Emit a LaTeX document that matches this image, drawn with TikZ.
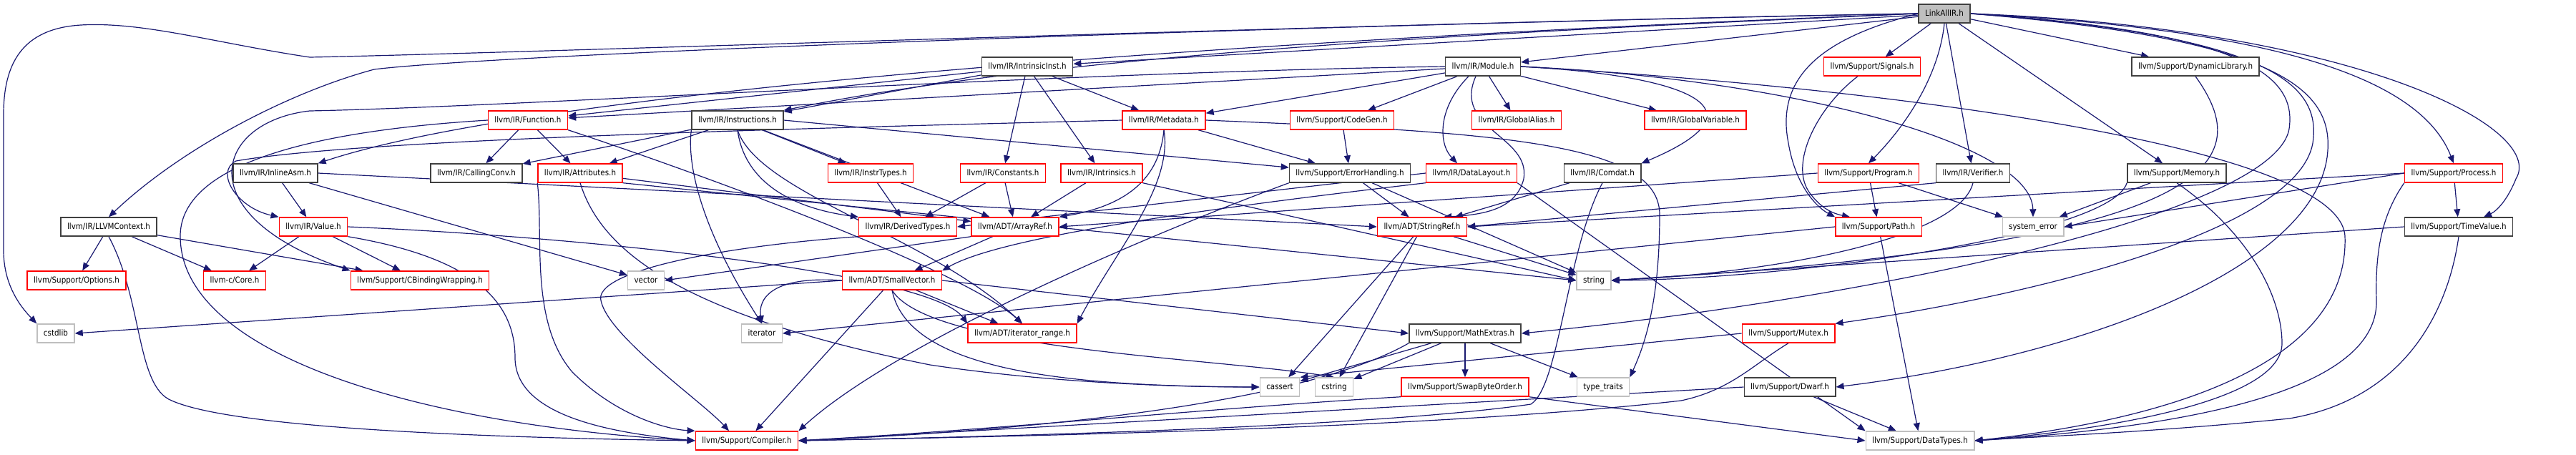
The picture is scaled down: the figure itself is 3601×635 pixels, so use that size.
\documentclass[tikz,border=0pt]{standalone}
\usepackage{fontspec}
\newfontfamily\dfont{DejaVu Sans}[FakeStretch=0.9]
\usetikzlibrary{arrows.meta}
\definecolor{edgec}{RGB}{25,25,112}
\definecolor{redb}{RGB}{255,0,0}
\definecolor{grayb}{RGB}{191,191,191}
\definecolor{blackb}{RGB}{64,64,64}
\pgfdeclarelayer{bg}\pgfsetlayers{bg,main}
\begin{document}
\begin{tikzpicture}[x=1pt,y=-1pt,
  nd/.style={rectangle, draw, fill=white, minimum height=26pt, inner xsep=9pt, inner ysep=0pt,
    line width=1.4pt, font=\dfont\fontsize{11.5}{13}\selectfont, text height=8.6pt, text depth=2.4pt},
  bk/.style={nd, draw=blackb},
  rd/.style={nd, draw=redb},
  gy/.style={nd, draw=grayb},
  e/.style={draw=edgec, line width=1.2pt, -{Triangle[length=11pt,width=9pt]}},
]
\useasboundingbox (0,0) rectangle (3601,635);
% row 0
\node[nd, draw=blackb, fill=grayb] (L) at (2718,19) {LinkAllIR.h};
% row 1
\node[bk] (ii) at (1436,93) {llvm/IR/IntrinsicInst.h};
\node[bk] (mod) at (2073,93) {llvm/IR/Module.h};
\node[rd] (sig) at (2617,93) {llvm/Support/Signals.h};
\node[bk] (dyn) at (3069,93) {llvm/Support/DynamicLibrary.h};
% row 2
\node[rd] (fun) at (738,168) {llvm/IR/Function.h};
\node[bk] (ins) at (1031,168) {llvm/IR/Instructions.h};
\node[rd] (meta) at (1627,168) {llvm/IR/Metadata.h};
\node[rd] (cg) at (1876,168) {llvm/Support/CodeGen.h};
\node[rd] (ga) at (2120,168) {llvm/IR/GlobalAlias.h};
\node[rd] (gv) at (2370,168) {llvm/IR/GlobalVariable.h};
% row 3
\node[bk] (ia) at (385,242) {llvm/IR/InlineAsm.h};
\node[bk] (cc) at (666,242) {llvm/IR/CallingConv.h};
\node[rd] (attr) at (811,242) {llvm/IR/Attributes.h};
\node[rd] (it) at (1217,242) {llvm/IR/InstrTypes.h};
\node[rd] (con) at (1402,242) {llvm/IR/Constants.h};
\node[rd] (intr) at (1540,242) {llvm/IR/Intrinsics.h};
\node[bk] (eh) at (1887,242) {llvm/Support/ErrorHandling.h};
\node[rd] (dl) at (2057,242) {llvm/IR/DataLayout.h};
\node[bk] (cmd) at (2240,242) {llvm/IR/Comdat.h};
\node[rd] (prog) at (2612,242) {llvm/Support/Program.h};
\node[bk] (ver) at (2758,242) {llvm/IR/Verifier.h};
\node[bk] (mem) at (3043,242) {llvm/Support/Memory.h};
\node[rd] (proc) at (3430,242) {llvm/Support/Process.h};
% row 4
\node[bk] (ctx) at (152,317) {llvm/IR/LLVMContext.h};
\node[rd] (val) at (438,317) {llvm/IR/Value.h};
\node[rd] (dt) at (1269,317) {llvm/IR/DerivedTypes.h};
\node[rd] (ar) at (1419,317) {llvm/ADT/ArrayRef.h};
\node[rd] (sr) at (1988,317) {llvm/ADT/StringRef.h};
\node[rd] (path) at (2626,317) {llvm/Support/Path.h};
\node[gy] (se) at (2842,317) {system\_error};
\node[bk] (tv) at (3437,317) {llvm/Support/TimeValue.h};
% row 5
\node[rd] (opt) at (107,392) {llvm/Support/Options.h};
\node[rd] (core) at (328,392) {llvm-c/Core.h};
\node[rd] (cbw) at (587,392) {llvm/Support/CBindingWrapping.h};
\node[gy] (vec) at (903,392) {vector};
\node[rd] (sv) at (1247,392) {llvm/ADT/SmallVector.h};
\node[gy] (str) at (2228,392) {string};
% row 6
\node[gy] (csl) at (78,466) {cstdlib};
\node[gy] (iter) at (1065,466) {iterator};
\node[rd] (ir) at (1429,466) {llvm/ADT/iterator\_range.h};
\node[bk] (me) at (2048,466) {llvm/Support/MathExtras.h};
\node[rd] (mtx) at (2500,466) {llvm/Support/Mutex.h};
% row 7
\node[gy] (cas) at (1789,541) {cassert};
\node[gy] (cst) at (1865,541) {cstring};
\node[rd] (sbo) at (2048,541) {llvm/Support/SwapByteOrder.h};
\node[gy] (tt) at (2241,541) {type\_traits};
\node[bk] (dw) at (2502,541) {llvm/Support/Dwarf.h};
% row 8
\node[rd] (comp) at (1044,616) {llvm/Support/Compiler.h};
\node[gy] (dty) at (2684,616) {llvm/Support/DataTypes.h};

\begin{pgfonlayer}{bg}
% LinkAllIR
\draw[e] (L) -- (ii);
\draw[e] (L) -- (mod);
\draw[e] (L.west) .. controls (2200,40) and (1500,70) .. (ins.north east);
\draw[e] (L.west) .. controls (2000,45) and (800,110) .. (ia.north east);
\draw[e] (L.west) .. controls (1800,35) and (700,75) .. (523,97) .. controls (400,130) and (250,210) .. (ctx.north);
\draw[e] (L.west) .. controls (2000,30) and (700,75) .. (433,80) .. controls (300,60) and (200,30) .. (113,35) .. controls (30,40) and (5,90) .. (5,160) -- (5,350) .. controls (5,400) and (30,430) .. (csl.north west);
\draw[e] (L) -- (sig);
\draw[e] (L.south) .. controls (2710,110) and (2660,180) .. (prog.north);
\draw[e] (L.west) .. controls (2560,50) and (2480,100) .. (2500,200) .. controls (2510,260) and (2540,290) .. (path.north west);
\draw[e] (L) -- (ver);
\draw[e] (L) -- (mem);
\draw[e] (L) -- (dyn);
\draw[e] (L.east) .. controls (3150,40) and (3380,100) .. (proc.north);
\draw[e] (L.east) .. controls (3300,40) and (3560,180) .. (3517,250) .. controls (3505,280) and (3490,295) .. ([xshift=35pt]tv.north);
\draw[e] (L.east) .. controls (3150,45) and (3210,110) .. (3200,180) .. controls (3180,300) and (2600,420) .. (me.east);
\draw[e] (L.east) .. controls (3180,50) and (3245,120) .. (3233,200) .. controls (3210,330) and (2800,420) .. (mtx.north east);
\draw[e] (L.east) .. controls (3200,55) and (3265,130) .. (3253,220) .. controls (3230,380) and (2900,500) .. (dw.east);
% Signals
\draw[e] ([xshift=-20pt]sig.south) .. controls (2540,150) and (2500,230) .. (2530,270) .. controls (2545,290) and (2560,298) .. ([xshift=-40pt]path.north);
% LLVMContext
\draw[e] (ctx) -- (opt);
\draw[e] (ctx) -- (core);
\draw[e] (ctx) -- (cbw);
\draw[e] (ctx.south) .. controls (200,420) and (190,540) .. (240,560) .. controls (330,600) and (700,612) .. (comp.west);
% Value
\draw[e] (val) -- (core);
\draw[e] (val) -- (cbw);
\draw[e] (val.south east) .. controls (660,360) and (720,420) .. (720,500) .. controls (720,580) and (850,605) .. (comp.west);
\draw[e] (val.east) .. controls (800,330) and (1300,380) .. (ir.north west);
% InlineAsm
\draw[e] (ia) -- (val);
\draw[e] (ia) -- (vec);
\draw[e] (ia.east) -- (sr.west);
% IntrinsicInst
\draw[e] (ii) -- (con);
\draw[e] (ii) -- (intr);
\draw[e] (ii) -- (meta);
\draw[e] (ii) -- (fun);
\draw[e] (ii) -- (ins);
% Module
\draw[e] (mod) -- (fun);
\draw[e] (mod) -- (meta);
\draw[e] (mod) -- (cg);
\draw[e] (mod) -- (ga);
\draw[e] (mod) -- (gv);
\draw[e] ([xshift=-20pt]mod.south) .. controls (2010,150) and (2010,200) .. ([xshift=-20pt]dl.north);
\draw[e] ([xshift=-10pt]mod.south) .. controls (2030,180) and (2140,190) .. (2130,250) .. controls (2120,290) and (2080,300) .. ([xshift=30pt]sr.north);
\draw[e] (mod.east) .. controls (2350,105) and (2480,150) .. (cmd.north east);
\draw[e] (mod.east) .. controls (2500,110) and (2840,200) .. (se.north);
\draw[e] (mod.east) .. controls (2600,120) and (3270,200) .. (3278,330) .. controls (3285,520) and (3000,590) .. (dty.east);
\draw[e] (mod.west) .. controls (1500,100) and (700,150) .. (433,155) .. controls (300,170) and (260,300) .. (cbw.north west);
% Function
\draw[e] (fun) -- (cc);
\draw[e] (fun) -- (attr);
\draw[e] (fun.west) .. controls (400,185) and (252,240) .. (252,330) .. controls (252,500) and (600,595) .. (comp.west);
\draw[e] (fun.south east) .. controls (1000,250) and (1350,380) .. (ir.north);
% Instructions
\draw[e] (ins) -- (cc);
\draw[e] (ins) -- (attr);
\draw[e] (ins) -- (it);
\draw[e] (ins.south) .. controls (1040,250) and (1100,290) .. (dt.north west);
\draw[e] (ins) -- (ar);
\draw[e] (ins.south) .. controls (1060,270) and (1300,330) .. (ir.north);
\draw[e] (ins.south west) .. controls (960,230) and (980,320) .. (iter.north);
\draw[e] (ins.east) -- (eh);
% Metadata
\draw[e] (meta.west) .. controls (1100,180) and (500,195) .. (330,225) .. controls (300,240) and (330,290) .. (val.north west);
\draw[e] (meta.south) .. controls (1620,260) and (1560,290) .. (ar.north east);
\draw[e] (meta.south) .. controls (1640,260) and (1560,350) .. (ir.north east);
\draw[e] (meta) -- (eh);
\draw[e] (meta.east) .. controls (2100,185) and (2320,200) .. (2320,300) .. controls (2320,420) and (2300,480) .. (tt.north east);
% CodeGen
\draw[e] (cg) -- (eh);
% Attributes
\draw[e] (attr) -- (ar);
\draw[e] (attr.south west) .. controls (760,330) and (740,450) .. (800,520) .. controls (860,580) and (930,600) .. (comp.north west);
\draw[e] (attr.south) .. controls (840,350) and (950,440) .. (1300,510) .. controls (1500,540) and (1700,541) .. (cas.west);
\draw[e] (attr.south east) -- (str.west);
% InstrTypes, Constants, Intrinsics, DerivedTypes
\draw[e] (it) -- (dt);
\draw[e] (con) -- (dt);
\draw[e] (con) -- (ar);
\draw[e] (intr) -- (ar);
\draw[e] (intr.south east) -- (str.west);
\draw[e] (dt.south west) .. controls (1000,345) and (830,380) .. (840,420) .. controls (850,470) and (980,560) .. ([xshift=-25pt]comp.north);
% ErrorHandling
\draw[e] (eh) -- (sr);
\draw[e] (eh) -- (str);
\draw[e] (eh.south west) .. controls (1600,330) and (1250,480) .. (comp.north east);
% DataLayout
\draw[e] (dl.south west) .. controls (1700,290) and (1400,330) .. (sv.north east);
\draw[e] (dl.west) -- (dt.east);
\draw[e] (dl.south east) -- (dty.north west);
% Comdat
\draw[e] (cmd) -- (sr);
\draw[e] (cmd.south) .. controls (2190,350) and (2180,540) .. (2140,565) .. controls (1900,600) and (1300,612) .. (comp.east);
% Program
\draw[e] (prog) -- (path);
\draw[e] (prog) -- (se);
\draw[e] (prog.west) -- (ar.east);
% Verifier
\draw[e] (ver.south west) -- (sr.east);
\draw[e] (ver.south) .. controls (2740,330) and (2500,380) .. (str.east);
% Memory
\draw[e] (mem) -- (se);
\draw[e] (mem.south) .. controls (3150,330) and (3190,420) .. (3190,480) .. controls (3190,560) and (2950,600) .. (dty.east);
\draw[e] (mem.south west) .. controls (2950,330) and (2500,390) .. (str.east);
% Process
\draw[e] (proc) -- (tv);
\draw[e] (proc.west) -- (se.east);
\draw[e] (proc.south west) .. controls (3330,300) and (3320,350) .. (3322,420) .. controls (3325,560) and (3000,600) .. (dty.east);
\draw[e] (proc.west) -- (sr.east);
% TimeValue
\draw[e] (tv.south) .. controls (3420,450) and (3350,560) .. (3200,585) .. controls (3000,605) and (2850,610) .. (dty.east);
\draw[e] (tv.west) -- (str.east);
% DynamicLibrary
\draw[e] (dyn.south) .. controls (3150,220) and (3130,340) .. (str.east);
% ArrayRef
\draw[e] (ar) -- (sv);
\draw[e] (ar.south west) -- (vec.east);
% StringRef
\draw[e] (sr) -- (cas);
\draw[e] (sr) -- (cst);
\draw[e] (sr) -- (str);
% Path
\draw[e] (path.west) -- (iter.east);
\draw[e] (path) -- (dty);
% SmallVector
\draw[e] (sv.west) -- (csl.east);
\draw[e] (sv.west) .. controls (1075,385) and (1060,420) .. (iter.north);
\draw[e] (sv) -- (ir);
\draw[e] (sv) -- (comp);
\draw[e] (sv.east) -- (me.west);
\draw[e] (sv.south) .. controls (1270,520) and (1500,540) .. (cas.west);
\draw[e] (sv.south) .. controls (1300,490) and (1700,500) .. (cst.north);
% MathExtras
\draw[e] (me) -- (cas);
\draw[e] (me) -- (cst);
\draw[e] (me) -- (sbo);
\draw[e] (me) -- (tt);
\draw[e] (me.south west) .. controls (1900,520) and (1700,590) .. (comp.east);
% SwapByteOrder
\draw[e] (sbo.south west) .. controls (1700,570) and (1400,600) .. (comp.east);
\draw[e] (sbo.south east) -- (dty.west);
% Mutex
\draw[e] (mtx.west) -- (cas.north east);
\draw[e] (mtx.south) .. controls (2450,510) and (2420,545) .. (2350,560) .. controls (2000,600) and (1400,610) .. (comp.east);
% Dwarf
\draw[e] (dw) -- (dty);
\draw[e] (dw.west) -- (comp.east);
\end{pgfonlayer}
\end{tikzpicture}
\end{document}
